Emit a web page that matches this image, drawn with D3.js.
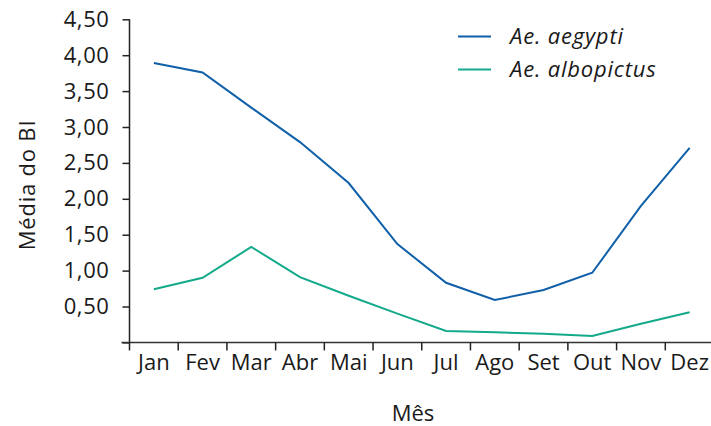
<!DOCTYPE html>
<html><head><meta charset="utf-8">
<script src="https://cdn.jsdelivr.net/npm/d3@7"></script>
<style>
body{margin:0;background:#fff;}
text{font-family:"Open Sans",Lato,sans-serif;fill:#1a1a1a;}
</style></head>
<body><svg id="c" width="711" height="426"></svg>
<script>
const months = ["Jan","Fev","Mar","Abr","Mai","Jun","Jul","Ago","Set","Out","Nov","Dez"];
const aegypti = [3.89,3.76,3.27,2.79,2.22,1.37,0.83,0.59,0.73,0.97,1.90,2.71];
const albopictus = [0.74,0.90,1.33,0.91,0.65,0.40,0.16,0.14,0.12,0.09,0.26,0.42];
const yTicks = [0,0.5,1,1.5,2,2.5,3,3.5,4,4.5];
const seriesNames = ["Ae. aegypti","Ae. albopictus"];
const colors = ["#0f5fa9","#13a98b"];

const FS = 22;
const svg = d3.select("#c");
const L=129.5, R=714, T=19.3, B=342.4;
const x = d3.scaleBand().domain(months).range([L,R]);
const y = d3.scaleLinear().domain([0,4.5]).range([B,T]);
const fmt = v => v===0 ? "" : d3.format(".2f")(v).replace(".",",");

// y axis
const ya = svg.append("g").attr("transform",`translate(${L},0)`)
  .call(d3.axisLeft(y).tickValues(yTicks).tickFormat(fmt).tickSize(7).tickPadding(13));
ya.select(".domain").attr("stroke","#222").attr("stroke-width",1.5).attr("d",`M0,${T}V${B}`);
ya.selectAll(".tick line").attr("stroke","#222").attr("stroke-width",1.5);
ya.selectAll(".tick text").attr("font-size",FS).attr("fill","#1a1a1a")
  .attr("font-family","'Open Sans',sans-serif").attr("letter-spacing",0.6);

// x axis with ticks at band boundaries
const xa = svg.append("g").attr("transform",`translate(0,${B})`);
xa.append("line").attr("x1",L-8).attr("x2",R).attr("y1",0).attr("y2",0).attr("stroke","#333").attr("stroke-width",1.5);
xa.selectAll(".tk").data(months).enter().append("line")
  .attr("x1",d=>x(d)).attr("x2",d=>x(d)).attr("y1",0).attr("y2",8)
  .attr("stroke","#222").attr("stroke-width",1.5);
xa.selectAll(".lb").data(months).enter().append("text")
  .attr("x",d=>x(d)+x.bandwidth()/2).attr("y",28).attr("text-anchor","middle")
  .attr("font-size",FS).text(d=>d);

// titles
svg.append("text").attr("transform","translate(35,185) rotate(-90)").attr("text-anchor","middle")
  .attr("font-size",FS).attr("letter-spacing",0.8).text("Média do BI");
svg.append("text").attr("x",413).attr("y",421).attr("text-anchor","middle")
  .attr("font-size",FS).text("Mês");

// lines
const line = d3.line().x((d,i)=>x(months[i])+x.bandwidth()/2).y(d=>y(d));
[aegypti,albopictus].forEach((s,i)=>{
  svg.append("path").datum(s).attr("d",line).attr("fill","none")
    .attr("stroke",colors[i]).attr("stroke-width",2);
});

// legend
const lg = svg.append("g");
seriesNames.forEach((n,i)=>{
  const yy = 36.5 + i*33;
  lg.append("line").attr("x1",458).attr("x2",491).attr("y1",yy).attr("y2",yy)
    .attr("stroke",colors[i]).attr("stroke-width",2);
  lg.append("text").attr("x",510).attr("y",yy+7).attr("font-size",FS)
    .attr("font-style","italic").attr("letter-spacing",0.8).text(n);
});
</script></body></html>
